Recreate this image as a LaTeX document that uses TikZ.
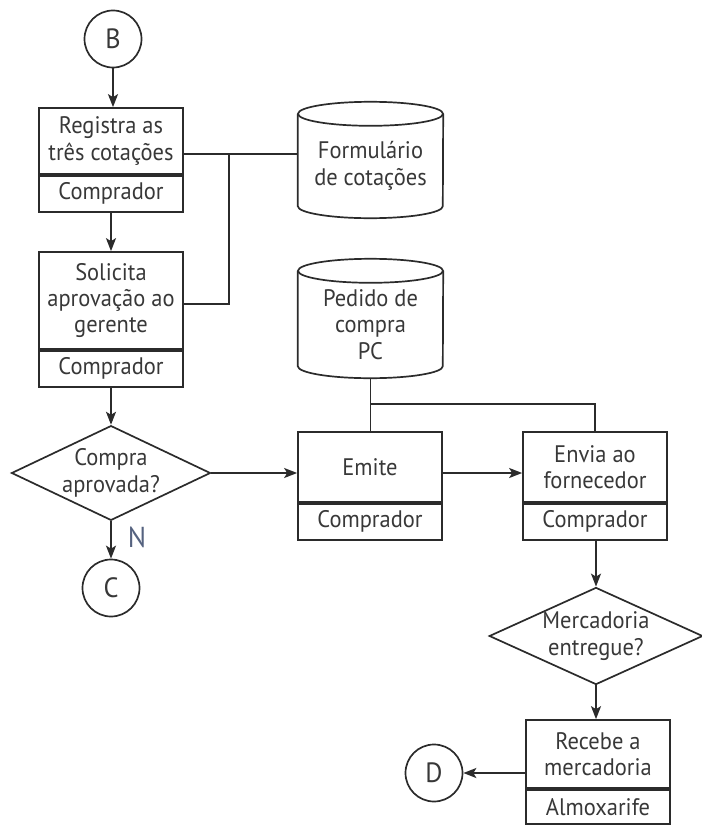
\documentclass[tikz,border=0pt]{standalone}
\usepackage{fontspec}
\setmainfont{PT Sans}[FakeStretch=0.94]
\usetikzlibrary{shapes.geometric,arrows.meta}
\definecolor{ink}{HTML}{2B2B2B}
\definecolor{txt}{HTML}{383838}
\definecolor{nblue}{HTML}{55627F}

\begin{document}
\begin{tikzpicture}[x=1bp,y=-1bp,
  every node/.style={font=\fontsize{24}{26.5}\selectfont, text=txt},
  line/.style={draw=ink, line width=1.7bp},
  flow/.style={line, -{Stealth[length=13bp,width=10bp,inset=3bp]}},
  task/.style={line, rectangle, minimum width=144bp, inner sep=0pt, align=center},
  role/.style={line, rectangle, minimum width=144bp, minimum height=36bp, inner sep=0pt, anchor=north},
  conn/.style={line, circle, minimum size=57bp, inner sep=0pt, font=\fontsize{28}{30}\selectfont},
  decision/.style={line, diamond, aspect=2.1, inner sep=0pt, align=center},
  store/.style={rectangle, minimum width=145bp, inner sep=0pt, align=center},
]
\useasboundingbox (0,0) rectangle (702,827);

% left column
\node[conn] (B) at (113,39) {B};
\node[task, minimum height=66bp] (reg) at (111,141) {Registra as\\três cotações};
\node[role] (regR) at (reg.south) {Comprador};
\node[task, minimum height=97bp] (sol) at (111,300.5) {Solicita\\aprovação ao\\gerente};
\node[role] (solR) at (sol.south) {Comprador};
\node[decision, minimum width=197bp, minimum height=93bp] (apr) at (111,473) {Compra\\aprovada?};
\node[conn] (C) at (111,588) {C};
\node[font=\fontsize{29}{30}\selectfont, text=nblue] (N) at (137,537) {N};

% data stores
\node[store, minimum height=104bp] (form) at (370.5,166) {Formulário\\de cotações};
\node[store, minimum height=107bp] (ped) at (370.5,324.5) {Pedido de\\compra\\PC};
\foreach \c in {form,ped} {
  \draw[line] (\c.north) ellipse [x radius=72.5bp, y radius=12bp];
  \draw[line] (\c.north west) -- ([yshift=12bp]\c.south west)
    arc[start angle=180, end angle=360, x radius=72.5bp, y radius=12bp]
    -- (\c.north east);
}

% middle and right columns
\node[task, minimum height=70bp] (emi) at (370,467) {Emite};
\node[role] (emiR) at (emi.south) {Comprador};
\node[task, minimum height=70bp] (env) at (595,467) {Envia ao\\fornecedor};
\node[role] (envR) at (env.south) {Comprador};
\node[decision, minimum width=212bp, minimum height=95bp, aspect=2.2] (ent) at (596,636) {Mercadoria\\entregue?};
\node[task, minimum height=68bp] (rec) at (598,754) {Recebe a\\mercadoria};
\node[role, minimum height=34bp] (recR) at (rec.south) {Almoxarife};
\node[conn] (D) at (434,773) {D};

% flow arrows
\draw[flow] (B) -- (B |- reg.north);
\draw[flow] (regR) -- (sol);
\draw[flow] (solR) -- (apr);
\draw[flow] (apr) -- (C);
\draw[flow] (apr.east) -- (apr.east -| emi.west);
\draw[flow] (apr.east -| emi.east) -- (apr.east -| env.west);
\draw[flow] (envR.south -| ent.north) -- (ent.north);
\draw[flow] (ent.south) -- (ent.south |- rec.north);
\draw[flow] (rec.west |- D) -- (D);

% data links
\coordinate (j1) at (229,154);
\coordinate (j2) at (229,304);
\draw[line] (reg.east |- j1) -- (form.west |- j1);
\draw[line] (j1) -- (j2) -- (sol.east |- j2);
\path (ped.south) ++(0,26) coordinate (j3);
\draw[line] (ped.south) -- (ped.south |- emi.north);
\draw[line] (j3) -| (env.north);
\end{tikzpicture}
\end{document}
